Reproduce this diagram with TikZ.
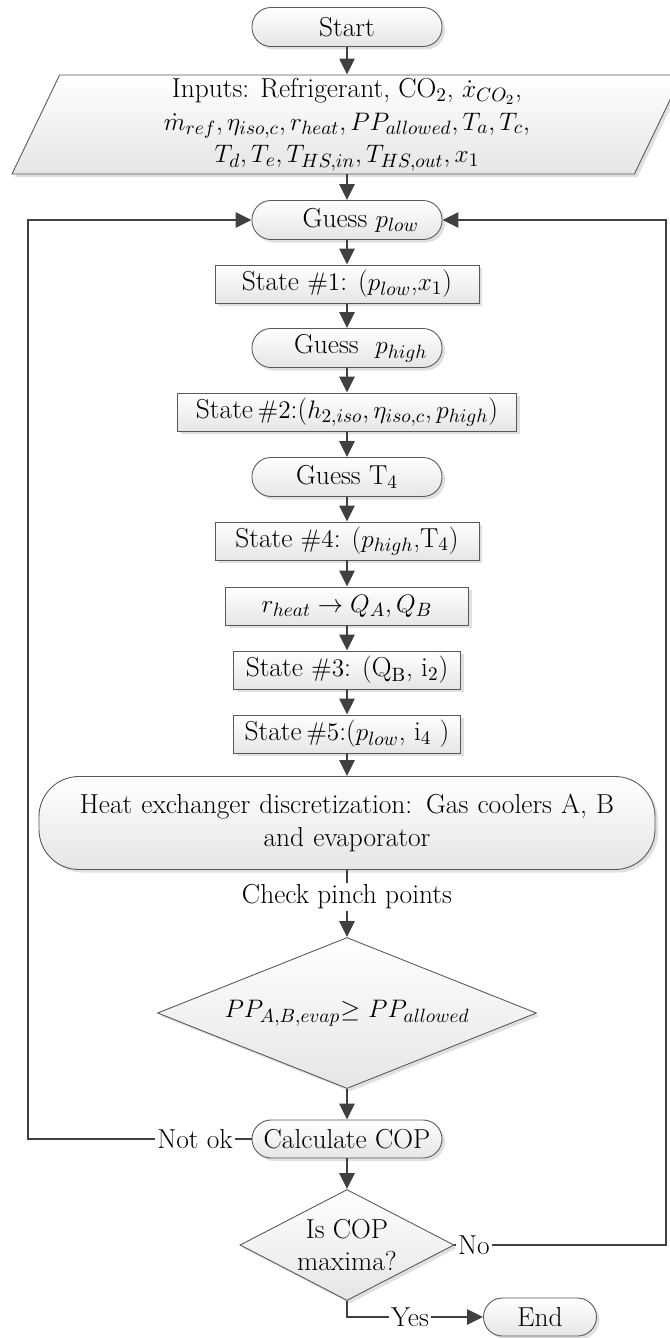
\documentclass[tikz,border=0pt]{standalone}
\usepackage{amsmath}
\usetikzlibrary{arrows.meta,positioning,shapes.geometric,shadows}

\begin{document}
\begin{tikzpicture}[
	font=\fontsize{15.6}{18.6}\selectfont,
	>={Triangle[length=0.32cm,width=0.30cm]},
	termbox/.style={
		rectangle, rounded corners=0.38cm,
		draw=black!65, line width=0.5pt,
		top color=white, bottom color=black!10,
		drop shadow={shadow xshift=0.06cm, shadow yshift=-0.06cm, fill=black!12, opacity=1},
		minimum width=3.8cm, minimum height=0.78cm, inner sep=1pt
	},
	procbox/.style={
		rectangle,
		draw=black!65, line width=0.5pt,
		top color=white, bottom color=black!10,
		drop shadow={shadow xshift=0.06cm, shadow yshift=-0.06cm, fill=black!12, opacity=1},
		minimum height=0.76cm, inner sep=1pt
	},
	inbox/.style={
		trapezium, trapezium left angle=63.7, trapezium right angle=116.3,
		trapezium stretches body,
		draw=black!65, line width=0.5pt,
		top color=white, bottom color=black!10,
		drop shadow={shadow xshift=0.06cm, shadow yshift=-0.06cm, fill=black!12, opacity=1},
		minimum width=13.4cm, minimum height=1.98cm, align=center, inner sep=1pt
	},
	decbox/.style={
		diamond, aspect=2.2,
		draw=black!65, line width=0.5pt,
		top color=white, bottom color=black!10,
		drop shadow={shadow xshift=0.06cm, shadow yshift=-0.06cm, fill=black!12, opacity=1},
		align=center, inner sep=0pt
	},
	lbl/.style={inner sep=1pt},
	arr/.style={->, line width=1.4pt, black!75},
	ln/.style={line width=1.4pt, black!75}
]
\useasboundingbox (0,0) rectangle (13.38,-26.76);

% Spine x=6.94
\node[termbox] (start) at (6.94, -0.54) {Start};
\node[inbox] (inputs) at (6.94, -2.49) {
	Inputs: Refrigerant, CO$_2$, $\dot{x}_{CO_2}$,\\
	$\dot{m}_{ref}, \eta_{iso,c}, r_{heat}, PP_{allowed}, T_a, T_c,$\\
	$T_d, T_e, T_{HS,in}, T_{HS,out}, x_1$
};
\node[termbox] (glow)  at (6.94, -4.40) {\quad Guess $p_{low}$};
\node[procbox, minimum width=5.28cm] (st1) at (6.94, -5.68) {State $\#1$: ($p_{low}$,$x_1$)};
\node[termbox] (ghigh) at (6.94, -6.96) {\quad Guess \ $p_{high}$};
\node[procbox, minimum width=6.78cm] (st2) at (6.94, -8.24) {State\,$\#2$:($h_{2,iso}, \eta_{iso,c}, p_{high}$)};
\node[termbox] (gtfour) at (6.94, -9.54) {Guess T$_4$};
\node[procbox, minimum width=5.28cm] (st4) at (6.94, -10.82) {State $\#4$: ($p_{high}$,T$_4$)};
\node[procbox, minimum width=4.86cm] (rheat) at (6.94, -12.12) {$r_{heat} \rightarrow Q_A, Q_B$};
\node[procbox, minimum width=4.54cm] (st3) at (6.94, -13.40) {State $\#3$: (Q$_\mathrm{B}$, i$_2$)};
\node[procbox, minimum width=4.54cm] (st5) at (6.94, -14.68) {State\,$\#5$:($p_{low}$, i$_4$ )};
\node[termbox, rounded corners=0.8cm, minimum width=12.32cm, minimum height=1.86cm, text width=12cm, align=center] (hex) at (6.94, -16.46)
	{Heat exchanger discretization: Gas coolers A, B\\and evaporator};
\node[lbl] (pinch) at (6.94, -17.94) {Check pinch points};
\node[decbox, minimum width=7.58cm, minimum height=3.02cm] (ppdec) at (6.94, -20.26)
	{$PP_{A,B,evap}{\geq}\ PP_{allowed}$};
\node[termbox, minimum height=0.76cm] (cop) at (6.94, -22.78) {Calculate COP};
\node[decbox, minimum width=3.78cm, minimum height=2.22cm] (maxdec) at (6.94, -24.90) {Is COP\\maxima?};

% Side labels and end
\node[lbl] (notok) at (3.90, -22.78) {Not ok};
\node[lbl] (no)    at (9.48, -24.90) {No};
\node[lbl] (yes)   at (8.20, -26.34) {Yes};
\node[termbox, minimum width=2.26cm, minimum height=0.76cm] (stop) at (10.80, -26.34) {End};

\coordinate (loopL) at (0.56, -22.78);
\coordinate (loopR) at (13.32, -24.90);

\draw[arr] (start) -- (start |- inputs.north);
\draw[arr] (glow |- inputs.south) -- (glow);
\foreach \a/\b in {glow/st1,st1/ghigh,ghigh/st2,st2/gtfour,gtfour/st4,st4/rheat,rheat/st3,st3/st5,st5/hex}
	\draw[arr] (\a) -- (\b);
\draw[ln] (hex) -- (pinch);
\draw[arr] (pinch) -- (ppdec);
\draw[arr] (ppdec) -- (cop);
\draw[arr] (cop) -- (maxdec);

% Loops back to Guess p_low
\draw[ln] (cop) -- (notok);
\draw[arr] (notok) -- (loopL) |- (glow);
\draw[ln] (maxdec) -- (no);
\draw[arr] (no) -- (loopR) |- (glow);

\draw[ln] (maxdec.south) |- (yes);
\draw[arr] (yes) -- (stop);

\end{tikzpicture}
\end{document}
